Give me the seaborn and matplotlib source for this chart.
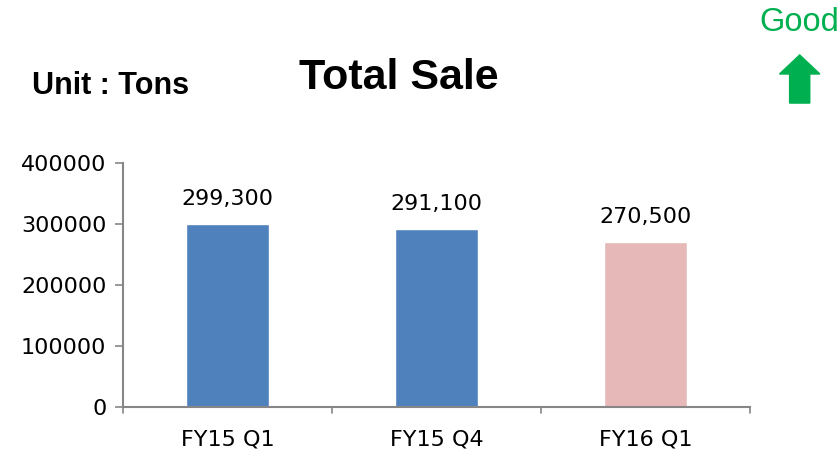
import matplotlib
matplotlib.use('Agg')
import matplotlib.pyplot as plt
import seaborn as sns
import pandas as pd

periods = ['FY15 Q1', 'FY15 Q4', 'FY16 Q1']
sales = [299300, 291100, 270500]
bar_colors = ['#4F81BD', '#4F81BD', '#E6B9B8']
y_ticks = [0, 100000, 200000, 300000, 400000]

sns.set_style('white')
plt.rcParams['font.family'] = ['DejaVu Sans']
plt.rcParams['text.color'] = 'black'
plt.rcParams['xtick.color'] = 'black'
plt.rcParams['ytick.color'] = 'black'

df = pd.DataFrame({'period': periods, 'sales': sales})

fig = plt.figure(figsize=(8.4, 4.54), dpi=100)
ax = fig.add_axes([0.1464, 0.1035, 0.7464, 0.5374])

sns.barplot(data=df, x='period', y='sales', hue='period', palette=bar_colors,
            width=0.4, legend=False, ax=ax, saturation=1)

ax.set_ylim(0, 400000)
ax.set_xlim(-0.5, 2.5)
ax.set_yticks(y_ticks)
ax.set_yticklabels([str(v) for v in y_ticks], fontsize=16)
ax.tick_params(axis='x', labelsize=16, length=0, pad=16)
ax.tick_params(axis='y', length=6, color='#868686', width=1.2, left=True, pad=6)
ax.set_xlabel('')
ax.set_ylabel('')

for side in ['top', 'right']:
    ax.spines[side].set_visible(False)
for side in ['left', 'bottom']:
    ax.spines[side].set_color('#868686')
    ax.spines[side].set_linewidth(1.5)

# category boundary ticks on x axis
for b in [-0.5, 0.5, 1.5, 2.5]:
    ax.plot([b, b], [0, -0.025], transform=ax.get_xaxis_transform(),
            color='#868686', lw=1.2, clip_on=False)

for i, v in enumerate(sales):
    ax.annotate(f'{v:,}', (i, v), xytext=(0, 11), textcoords='offset points',
                ha='center', va='bottom', fontsize=16, color='black')

fig.text(0.475, 0.828, 'Total Sale', ha='center', va='center',
         fontsize=31, fontweight='bold', family='Liberation Sans')
fig.text(0.038, 0.811, 'Unit : Tons', ha='left', va='center',
         fontsize=22, fontweight='bold', family='Liberation Sans')
fig.text(0.952, 0.951, 'Good', ha='center', va='center',
         fontsize=23.5, color='#00B050', family='Liberation Sans')
fig.patches.append(matplotlib.patches.FancyArrow(
    0.952, 0.773, 0, 0.106, width=0.024, head_width=0.048, head_length=0.042,
    length_includes_head=True, transform=fig.transFigure, color='#00B050',
    figure=fig))

fig.savefig('out.png', dpi=100)
